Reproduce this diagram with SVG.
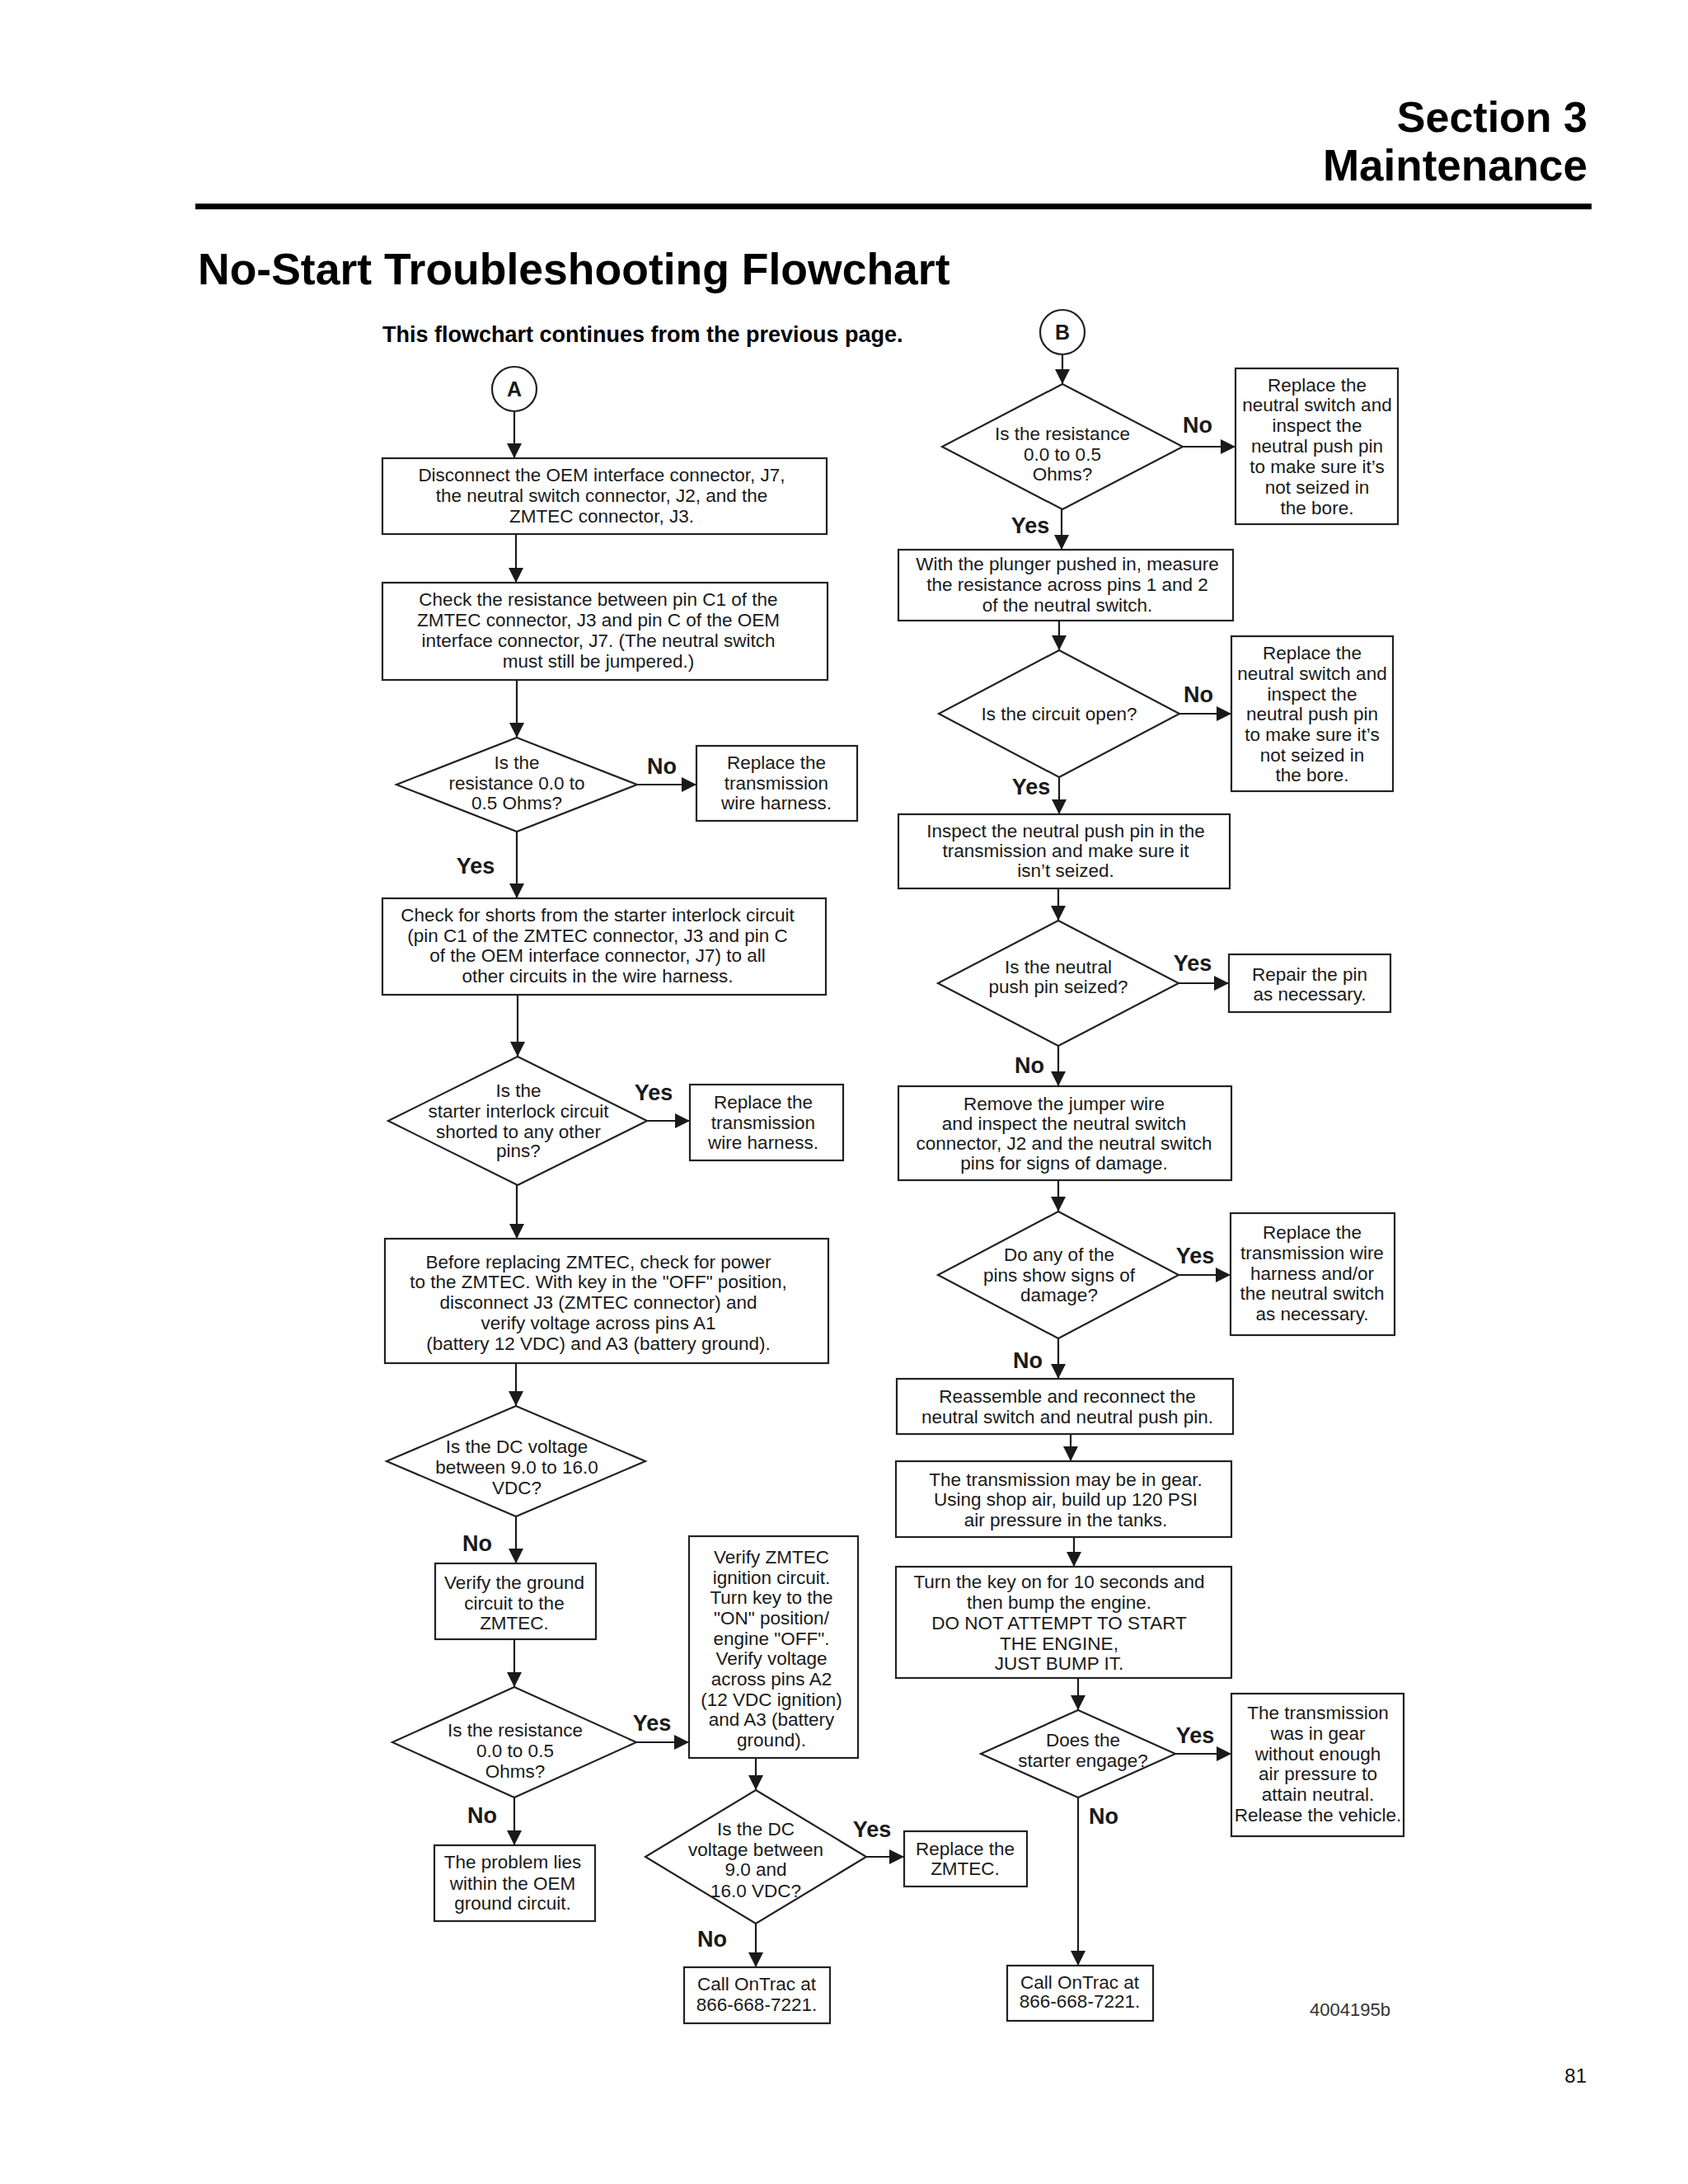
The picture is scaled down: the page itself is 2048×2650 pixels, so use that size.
<svg xmlns="http://www.w3.org/2000/svg" width="2048" height="2650" viewBox="0 0 2048 2650">
<defs>
<marker id="ah" markerUnits="userSpaceOnUse" markerWidth="18" markerHeight="18" refX="18" refY="9" orient="auto"><path d="M0,0 L18,9 L0,18 z" fill="#1a1a1a"/></marker>
<style>
.box{fill:#fff;stroke:#222;stroke-width:2.2}
.t{font-family:"Liberation Sans",Arial,sans-serif;font-size:22.5px;fill:#1a1a1a;text-anchor:middle}
.lb{font-family:"Liberation Sans",Arial,sans-serif;font-size:27px;font-weight:bold;fill:#1a1a1a;text-anchor:middle}
.cl{font-family:"Liberation Sans",Arial,sans-serif;font-size:25px;font-weight:bold;fill:#1a1a1a;text-anchor:middle}
.c line{stroke:#1a1a1a;stroke-width:2.2;marker-end:url(#ah)}
.h{font-family:"Liberation Sans",Arial,sans-serif;font-weight:bold;fill:#000}
</style>
</defs>
<rect width="2048" height="2650" fill="#fff"/>
<g id="header">
<text class="h" x="1926" y="160" font-size="52" text-anchor="end">Section 3</text>
<text class="h" x="1926" y="219" font-size="53" text-anchor="end">Maintenance</text>
<rect x="237" y="247" width="1694" height="7" fill="#000"/>
<text class="h" x="240" y="345" font-size="53.5">No-Start Troubleshooting Flowchart</text>
<text class="h" x="464" y="415" font-size="27">This flowchart continues from the previous page.</text>
</g>
<g id="connectors" class="c">
<line x1="624" y1="499" x2="624" y2="556"/>
<line x1="626" y1="648" x2="626" y2="707"/>
<line x1="627" y1="825" x2="627" y2="895"/>
<line x1="773" y1="952" x2="845" y2="952"/>
<line x1="627" y1="1009" x2="627" y2="1090"/>
<line x1="628" y1="1207" x2="628" y2="1282"/>
<line x1="785" y1="1360" x2="837" y2="1360"/>
<line x1="627" y1="1438" x2="627" y2="1503"/>
<line x1="626" y1="1654" x2="626" y2="1706"/>
<line x1="626" y1="1840" x2="626" y2="1897"/>
<line x1="624" y1="1989" x2="624" y2="2047"/>
<line x1="772" y1="2114" x2="836" y2="2114"/>
<line x1="624" y1="2181" x2="624" y2="2239"/>
<line x1="917" y1="2133" x2="917" y2="2172"/>
<line x1="1051" y1="2253" x2="1097" y2="2253"/>
<line x1="917" y1="2334" x2="917" y2="2387"/>
<line x1="1289" y1="430" x2="1289" y2="466"/>
<line x1="1435" y1="542" x2="1499" y2="542"/>
<line x1="1288" y1="618" x2="1288" y2="667"/>
<line x1="1285" y1="753" x2="1285" y2="789"/>
<line x1="1431" y1="866" x2="1494" y2="866"/>
<line x1="1285" y1="943" x2="1285" y2="988"/>
<line x1="1284" y1="1078" x2="1284" y2="1117"/>
<line x1="1430" y1="1193" x2="1491" y2="1193"/>
<line x1="1284" y1="1269" x2="1284" y2="1318"/>
<line x1="1284" y1="1432" x2="1284" y2="1470"/>
<line x1="1430" y1="1547" x2="1493" y2="1547"/>
<line x1="1284" y1="1624" x2="1284" y2="1673"/>
<line x1="1299" y1="1740" x2="1299" y2="1773"/>
<line x1="1303" y1="1865" x2="1303" y2="1901"/>
<line x1="1308" y1="2036" x2="1308" y2="2075"/>
<line x1="1426" y1="2128" x2="1494" y2="2128"/>
<line x1="1308" y1="2181" x2="1308" y2="2385"/>
</g>
<g id="labels">
<text class="lb" x="803" y="939">No</text>
<text class="lb" x="577" y="1060">Yes</text>
<text class="lb" x="793" y="1335">Yes</text>
<text class="lb" x="579" y="1882">No</text>
<text class="lb" x="791" y="2100">Yes</text>
<text class="lb" x="585" y="2212">No</text>
<text class="lb" x="1058" y="2229">Yes</text>
<text class="lb" x="864" y="2362">No</text>
<text class="lb" x="1453" y="525">No</text>
<text class="lb" x="1250" y="647">Yes</text>
<text class="lb" x="1454" y="852">No</text>
<text class="lb" x="1251" y="964">Yes</text>
<text class="lb" x="1447" y="1178">Yes</text>
<text class="lb" x="1249" y="1302">No</text>
<text class="lb" x="1450" y="1533">Yes</text>
<text class="lb" x="1247" y="1660">No</text>
<text class="lb" x="1450" y="2115">Yes</text>
<text class="lb" x="1339" y="2213">No</text>
</g>
<g id="startA"><ellipse class="box" cx="624" cy="472" rx="27" ry="27"/><text class="cl" x="624" y="481">A</text></g>
<g id="startB"><ellipse class="box" cx="1289" cy="403" rx="27" ry="27"/><text class="cl" x="1289" y="412">B</text></g>
<g id="n1"><rect class="box" x="464" y="556" width="539" height="92"/>
<text class="t" x="730" y="584">Disconnect the OEM interface connector, J7,</text>
<text class="t" x="730" y="609">the neutral switch connector, J2, and the</text>
<text class="t" x="730" y="634">ZMTEC connector, J3.</text></g>
<g id="n2"><rect class="box" x="464" y="707" width="540" height="118"/>
<text class="t" x="726" y="735">Check the resistance between pin C1 of the</text>
<text class="t" x="726" y="760">ZMTEC connector, J3 and pin C of the OEM</text>
<text class="t" x="726" y="785">interface connector, J7. (The neutral switch</text>
<text class="t" x="726" y="810">must still be jumpered.)</text></g>
<g id="d1"><polygon class="box" points="627,895 773,952 627,1009 481,952"/>
<text class="t" x="627" y="933">Is the</text>
<text class="t" x="627" y="958">resistance 0.0 to</text>
<text class="t" x="627" y="982">0.5 Ohms?</text></g>
<g id="r1"><rect class="box" x="845" y="905" width="195" height="91"/>
<text class="t" x="942" y="933">Replace the</text>
<text class="t" x="942" y="958">transmission</text>
<text class="t" x="942" y="982">wire harness.</text></g>
<g id="n3"><rect class="box" x="464" y="1090" width="538" height="117"/>
<text class="t" x="725" y="1118">Check for shorts from the starter interlock circuit</text>
<text class="t" x="725" y="1143">(pin C1 of the ZMTEC connector, J3 and pin C</text>
<text class="t" x="725" y="1167">of the OEM interface connector, J7) to all</text>
<text class="t" x="725" y="1192">other circuits in the wire harness.</text></g>
<g id="d2"><polygon class="box" points="628,1282 785,1360 628,1438 471,1360"/>
<text class="t" x="629" y="1331">Is the</text>
<text class="t" x="629" y="1356">starter interlock circuit</text>
<text class="t" x="629" y="1381">shorted to any other</text>
<text class="t" x="629" y="1404">pins?</text></g>
<g id="r2"><rect class="box" x="837" y="1316" width="186" height="92"/>
<text class="t" x="926" y="1345">Replace the</text>
<text class="t" x="926" y="1370">transmission</text>
<text class="t" x="926" y="1394">wire harness.</text></g>
<g id="n4"><rect class="box" x="467" y="1503" width="538" height="151"/>
<text class="t" x="726" y="1539">Before replacing ZMTEC, check for power</text>
<text class="t" x="726" y="1563">to the ZMTEC. With key in the "OFF" position,</text>
<text class="t" x="726" y="1588">disconnect J3 (ZMTEC connector) and</text>
<text class="t" x="726" y="1613">verify voltage across pins A1</text>
<text class="t" x="726" y="1638">(battery 12 VDC) and A3 (battery ground).</text></g>
<g id="d3"><polygon class="box" points="626,1706 783,1773 626,1840 469,1773"/>
<text class="t" x="627" y="1763">Is the DC voltage</text>
<text class="t" x="627" y="1788">between 9.0 to 16.0</text>
<text class="t" x="627" y="1813">VDC?</text></g>
<g id="n5"><rect class="box" x="528" y="1897" width="195" height="92"/>
<text class="t" x="624" y="1928">Verify the ground</text>
<text class="t" x="624" y="1953">circuit to the</text>
<text class="t" x="624" y="1977">ZMTEC.</text></g>
<g id="d4"><polygon class="box" points="624,2047 772,2114 624,2181 476,2114"/>
<text class="t" x="625" y="2107">Is the resistance</text>
<text class="t" x="625" y="2132">0.0 to 0.5</text>
<text class="t" x="625" y="2157">Ohms?</text></g>
<g id="n7"><rect class="box" x="527" y="2239" width="195" height="92"/>
<text class="t" x="622" y="2267">The problem lies</text>
<text class="t" x="622" y="2293">within the OEM</text>
<text class="t" x="622" y="2317">ground circuit.</text></g>
<g id="n6"><rect class="box" x="836" y="1864" width="205" height="269"/>
<text class="t" x="936" y="1897">Verify ZMTEC</text>
<text class="t" x="936" y="1922">ignition circuit.</text>
<text class="t" x="936" y="1946">Turn key to the</text>
<text class="t" x="936" y="1971">"ON" position/</text>
<text class="t" x="936" y="1996">engine "OFF".</text>
<text class="t" x="936" y="2020">Verify voltage</text>
<text class="t" x="936" y="2045">across pins A2</text>
<text class="t" x="936" y="2070">(12 VDC ignition)</text>
<text class="t" x="936" y="2094">and A3 (battery</text>
<text class="t" x="936" y="2119">ground).</text></g>
<g id="d5"><polygon class="box" points="917,2172 1051,2253 917,2334 783,2253"/>
<text class="t" x="917" y="2227">Is the DC</text>
<text class="t" x="917" y="2252">voltage between</text>
<text class="t" x="917" y="2276">9.0 and</text>
<text class="t" x="917" y="2302">16.0 VDC?</text></g>
<g id="r8"><rect class="box" x="1097" y="2222" width="149" height="67"/>
<text class="t" x="1171" y="2251">Replace the</text>
<text class="t" x="1171" y="2275">ZMTEC.</text></g>
<g id="n8"><rect class="box" x="830" y="2387" width="177" height="68"/>
<text class="t" x="918" y="2415">Call OnTrac at</text>
<text class="t" x="918" y="2440">866-668-7221.</text></g>
<g id="d6"><polygon class="box" points="1289,466 1435,542 1289,618 1143,542"/>
<text class="t" x="1289" y="534">Is the resistance</text>
<text class="t" x="1289" y="559">0.0 to 0.5</text>
<text class="t" x="1289" y="583">Ohms?</text></g>
<g id="r3"><rect class="box" x="1499" y="447" width="197" height="189"/>
<text class="t" x="1598" y="475">Replace the</text>
<text class="t" x="1598" y="499">neutral switch and</text>
<text class="t" x="1598" y="524">inspect the</text>
<text class="t" x="1598" y="549">neutral push pin</text>
<text class="t" x="1598" y="574">to make sure it’s</text>
<text class="t" x="1598" y="599">not seized in</text>
<text class="t" x="1598" y="624">the bore.</text></g>
<g id="n9"><rect class="box" x="1090" y="667" width="406" height="86"/>
<text class="t" x="1295" y="692">With the plunger pushed in, measure</text>
<text class="t" x="1295" y="717">the resistance across pins 1 and 2</text>
<text class="t" x="1295" y="742">of the neutral switch.</text></g>
<g id="d7"><polygon class="box" points="1285,789 1431,866 1285,943 1139,866"/>
<text class="t" x="1285" y="874">Is the circuit open?</text></g>
<g id="r4"><rect class="box" x="1494" y="772" width="196" height="188"/>
<text class="t" x="1592" y="800">Replace the</text>
<text class="t" x="1592" y="825">neutral switch and</text>
<text class="t" x="1592" y="850">inspect the</text>
<text class="t" x="1592" y="874">neutral push pin</text>
<text class="t" x="1592" y="899">to make sure it’s</text>
<text class="t" x="1592" y="924">not seized in</text>
<text class="t" x="1592" y="948">the bore.</text></g>
<g id="n10"><rect class="box" x="1090" y="988" width="402" height="90"/>
<text class="t" x="1293" y="1016">Inspect the neutral push pin in the</text>
<text class="t" x="1293" y="1040">transmission and make sure it</text>
<text class="t" x="1293" y="1064">isn’t seized.</text></g>
<g id="d8"><polygon class="box" points="1284,1117 1430,1193 1284,1269 1138,1193"/>
<text class="t" x="1284" y="1181">Is the neutral</text>
<text class="t" x="1284" y="1205">push pin seized?</text></g>
<g id="r5"><rect class="box" x="1491" y="1158" width="196" height="70"/>
<text class="t" x="1589" y="1190">Repair the pin</text>
<text class="t" x="1589" y="1214">as necessary.</text></g>
<g id="n11"><rect class="box" x="1090" y="1318" width="404" height="114"/>
<text class="t" x="1291" y="1347">Remove the jumper wire</text>
<text class="t" x="1291" y="1371">and inspect the neutral switch</text>
<text class="t" x="1291" y="1395">connector, J2 and the neutral switch</text>
<text class="t" x="1291" y="1419">pins for signs of damage.</text></g>
<g id="d9"><polygon class="box" points="1284,1470 1430,1547 1284,1624 1138,1547"/>
<text class="t" x="1285" y="1530">Do any of the</text>
<text class="t" x="1285" y="1555">pins show signs of</text>
<text class="t" x="1285" y="1579">damage?</text></g>
<g id="r6"><rect class="box" x="1493" y="1472" width="199" height="148"/>
<text class="t" x="1592" y="1503">Replace the</text>
<text class="t" x="1592" y="1528">transmission wire</text>
<text class="t" x="1592" y="1553">harness and/or</text>
<text class="t" x="1592" y="1577">the neutral switch</text>
<text class="t" x="1592" y="1602">as necessary.</text></g>
<g id="n12"><rect class="box" x="1088" y="1673" width="408" height="67"/>
<text class="t" x="1295" y="1702">Reassemble and reconnect the</text>
<text class="t" x="1295" y="1727">neutral switch and neutral push pin.</text></g>
<g id="n13"><rect class="box" x="1087" y="1773" width="407" height="92"/>
<text class="t" x="1293" y="1803">The transmission may be in gear.</text>
<text class="t" x="1293" y="1827">Using shop air, build up 120 PSI</text>
<text class="t" x="1293" y="1852">air pressure in the tanks.</text></g>
<g id="n14"><rect class="box" x="1087" y="1901" width="407" height="135"/>
<text class="t" x="1285" y="1927">Turn the key on for 10 seconds and</text>
<text class="t" x="1285" y="1952">then bump the engine.</text>
<text class="t" x="1285" y="1977">DO NOT ATTEMPT TO START</text>
<text class="t" x="1285" y="2002">THE ENGINE,</text>
<text class="t" x="1285" y="2026">JUST BUMP IT.</text></g>
<g id="d10"><polygon class="box" points="1308,2075 1426,2128 1308,2181 1190,2128"/>
<text class="t" x="1314" y="2119">Does the</text>
<text class="t" x="1314" y="2144">starter engage?</text></g>
<g id="r7"><rect class="box" x="1494" y="2055" width="209" height="173"/>
<text class="t" x="1599" y="2086">The transmission</text>
<text class="t" x="1599" y="2111">was in gear</text>
<text class="t" x="1599" y="2136">without enough</text>
<text class="t" x="1599" y="2160">air pressure to</text>
<text class="t" x="1599" y="2185">attain neutral.</text>
<text class="t" x="1599" y="2210">Release the vehicle.</text></g>
<g id="n15"><rect class="box" x="1222" y="2385" width="177" height="67"/>
<text class="t" x="1310" y="2413">Call OnTrac at</text>
<text class="t" x="1310" y="2436">866-668-7221.</text></g>
<g id="footer">
<text x="1638" y="2446" font-family="'Liberation Sans',Arial,sans-serif" font-size="22" fill="#333" text-anchor="middle">4004195b</text>
<text x="1925" y="2527" font-family="'Liberation Sans',Arial,sans-serif" font-size="24" fill="#111" text-anchor="end">81</text>
</g>
</svg>
